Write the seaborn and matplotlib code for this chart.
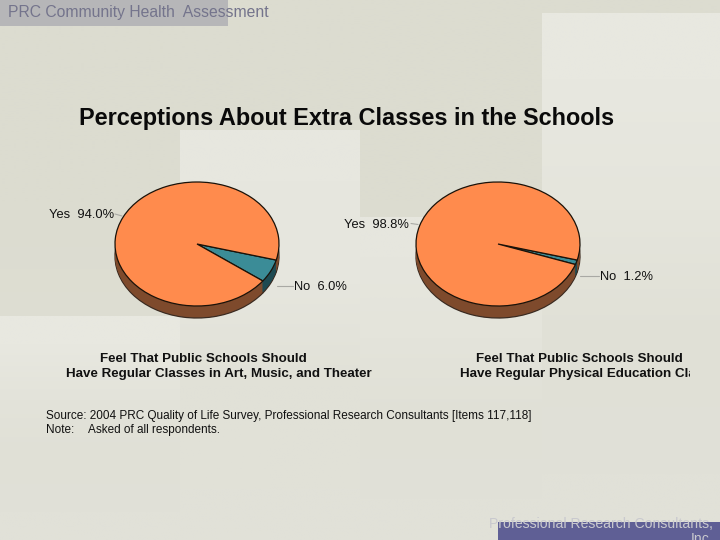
import numpy as np
import seaborn as sns
import matplotlib.pyplot as plt
from matplotlib.colors import to_rgb
from matplotlib.patches import Rectangle
from matplotlib.transforms import Bbox

sns.set_style("white")
plt.rcParams['font.family'] = ['Liberation Sans', 'DejaVu Sans']

categories = ["No", "Yes"]
art_values = [6.0, 94.0]
pe_values = [1.2, 98.8]

title = "Perceptions About Extra Classes in the Schools"
header = "PRC Community Health  Assessment"
art_caption = ["Feel That Public Schools Should", "Have Regular Classes in Art, Music, and Theater"]
pe_caption = ["Feel That Public Schools Should", "Have Regular Physical Education Classes"]
source_text = "Source: 2004 PRC Quality of Life Survey, Professional Research Consultants [Items 117,118]"
note_text = "Asked of all respondents."
footer = ["Professional Research Consultants,", "Inc."]

top_colors = ["#3B8C97", "#FF8B4D"]
side_colors = ["#1E4A52", "#7E4A2C"]

W, H = 720, 540
fig = plt.figure(figsize=(W / 100, H / 100), dpi=100)

# slide background, in pixel coordinates
bg = fig.add_axes([0, 0, 1, 1])
bg.axis("off")


def panel(x0, x1, y0, y1, colors, z):
    img = np.array([to_rgb(c) for c in colors])[:, None, :]
    bg.imshow(img, extent=[x0, x1, y1, y0], aspect="auto", interpolation="bilinear", zorder=z)


panel(0, W, 0, H, ["#DCDCD0", "#DCDCD0", "#DEDED3", "#E1E1D8"], 0)
panel(0, 180, 316, H, ["#E8E8E0", "#E3E3DA", "#E0E0D6", "#E1E1D8"], 1)
panel(180, 360, 130, H, ["#E7E7DF", "#E6E6DE", "#E1E1D7", "#E1E1D8"], 1)
panel(360, 542, 217, H, ["#E6E6DE", "#E4E4DB", "#E0E0D6", "#E1E1D8"], 1)
panel(542, W, 13, H, ["#E8E8E0", "#E5E5DC", "#E0E0D6", "#E1E1D8"], 1)
bg.set_xlim(0, W)
bg.set_ylim(H, 0)
bg.add_patch(Rectangle((0, 0), 228, 26, fc="#B6B6B8", ec="none", zorder=2))
bg.add_patch(Rectangle((498, 522), 222, 18, fc="#5F5F95", ec="none", zorder=2))


def pie_3d(cx, cy, values):
    # axes box sized so that the unit pie has 82 x 62 px radii
    rx, ry, depth = 82, 62, 12
    ax = fig.add_axes([(cx - 100) / W, 1 - (cy + 100) / H, 200 / W, 200 / H])
    ax.patch.set_alpha(0)
    ax.pie(values, colors=side_colors, startangle=-15, counterclock=False,
           center=(0, -depth / ry), radius=1, wedgeprops={"linewidth": 0.9, "edgecolor": "#3A2A20"})
    for d in np.linspace(depth / ry, 0, 13)[1:-1]:
        ax.pie(values, colors=side_colors, startangle=-15, counterclock=False,
               center=(0, -d), radius=1, wedgeprops={"linewidth": 0})
    ax.pie(values, colors=top_colors, startangle=-15, counterclock=False,
           center=(0, 0), radius=1, wedgeprops={"linewidth": 0.9, "edgecolor": "#1A1209"})
    ax.set_aspect("auto")
    ax.set_xlim(-100 / rx, 100 / rx)
    ax.set_ylim(-100 / ry, 100 / ry)
    ax.axis("off")


pie_3d(197, 244, art_values)
pie_3d(498, 244, pe_values)

# overlay with all the text
top = fig.add_axes([0, 0, 1, 1])
top.set_xlim(0, W)
top.set_ylim(H, 0)
top.axis("off")
top.patch.set_alpha(0)

top.text(8, 12.5, header, fontsize=11.3, color="#74748C", va="center", ha="left")
top.text(346.5, 119, title, fontsize=16.9, fontweight="bold", color="#0A0A0A", va="center", ha="center")


def label(x, y, cat, val):
    top.text(x, y, f"{cat}  {val:.1f}%", fontsize=9.3, color="#111111", va="center", ha="left")


label(49, 215, categories[1], art_values[1])
label(294, 286.5, categories[0], art_values[0])
label(344, 225, categories[1], pe_values[1])
label(600, 277, categories[0], pe_values[0])
for xs, ys in [((115, 122), (214, 216)), ((277, 293), (285.5, 285.5)),
               ((411, 418), (223.5, 224.5)), ((580, 599), (276, 276))]:
    top.plot(xs, ys, color="#A9A9A4", lw=0.8)

for y, a, p, xa, xp, hap in zip((358, 374), art_caption, pe_caption, (203, 218.5), (579, 460), ("center", "left")):
    top.text(xa, y + 0.5, a, fontsize=9.65, fontweight="bold", color="#111111", va="center", ha="center")
    t = top.text(xp, y + 0.5, p, fontsize=9.65, fontweight="bold", color="#111111", va="center", ha=hap)
    t.set_clip_on(True)
    t.set_clip_box(Bbox.from_extents(0, 0, 690, H))

top.text(46, 415.5, source_text, fontsize=8.47, color="#111111", va="center", ha="left")
top.text(46, 430, "Note:", fontsize=8.47, color="#111111", va="center", ha="left")
top.text(88, 430, note_text, fontsize=8.47, color="#111111", va="center", ha="left")

top.text(713, 524, footer[0], fontsize=10.1, color="#C9C9CE", va="center", ha="right")
top.text(713, 539, footer[1], fontsize=10.1, color="#C9C9CE", va="center", ha="right")

fig.savefig("out.png", dpi=100)
